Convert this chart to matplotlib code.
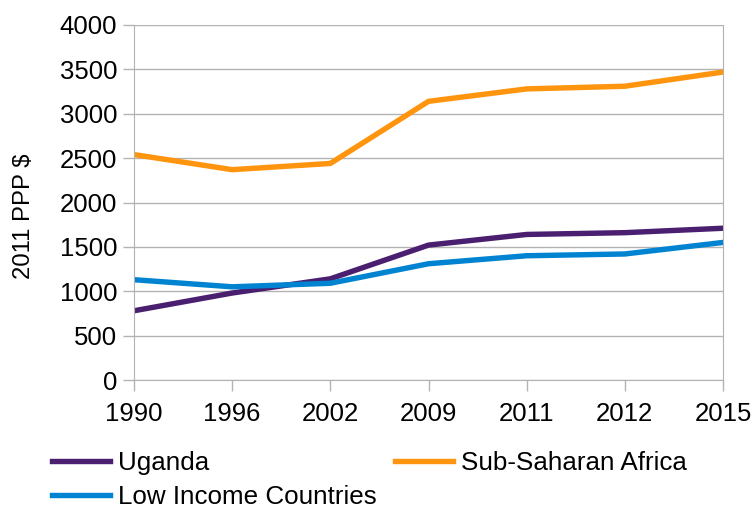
import matplotlib.pyplot as plt
import numpy as np

years = ["1990", "1996", "2002", "2009", "2011", "2012", "2015"]
uganda = [780, 980, 1140, 1520, 1640, 1660, 1710]
ssa = [2540, 2370, 2440, 3140, 3280, 3310, 3470]
lic = [1130, 1050, 1090, 1310, 1400, 1420, 1550]
y_ticks = [0, 500, 1000, 1500, 2000, 2500, 3000, 3500, 4000]

plt.rcParams['font.family'] = ['Liberation Sans', 'DejaVu Sans']

fig = plt.figure(figsize=(7.56, 5.12), dpi=100)
ax = fig.add_axes([134/756, 1-380/512, (723-134)/756, (380-25)/512])

x = np.arange(len(years))
l1, = ax.plot(x, uganda, color='#4b1f6f', lw=3.9, label='Uganda', solid_joinstyle='round')
l2, = ax.plot(x, ssa, color='#ff950e', lw=3.9, label='Sub-Saharan Africa', solid_joinstyle='round')
l3, = ax.plot(x, lic, color='#0084d1', lw=3.9, label='Low Income Countries', solid_joinstyle='round')

ax.set_xlim(0, len(years)-1)
ax.set_ylim(0, 4000)
ax.set_xticks(x)
ax.set_xticklabels(years)
ax.set_yticks(y_ticks)
ax.grid(axis='y', color='#b3b3b3', lw=1)
ax.set_axisbelow(True)
for s in ['left', 'bottom', 'right']:
    ax.spines[s].set_color('#b3b3b3')
ax.spines['top'].set_visible(False)
ax.tick_params(colors='#b3b3b3', labelcolor='black', labelsize=18.5, length=8, width=1)
ax.tick_params(axis='x', pad=8)
ax.tick_params(axis='y', pad=4)
ax.set_ylabel('2011 PPP $', fontsize=17.2)
ax.yaxis.set_label_coords(-0.168, 0.46)

fig.legend([l1, l3, l2], [l1.get_label(), l3.get_label(), l2.get_label()],
           loc='upper left', bbox_to_anchor=(52/756, 1-451/512), ncol=2,
           frameon=False, fontsize=18.7, borderpad=0, borderaxespad=0,
           handlelength=2.23, handletextpad=0.3, columnspacing=0.73,
           labelspacing=0.39)

fig.savefig('out.png', dpi=100)
